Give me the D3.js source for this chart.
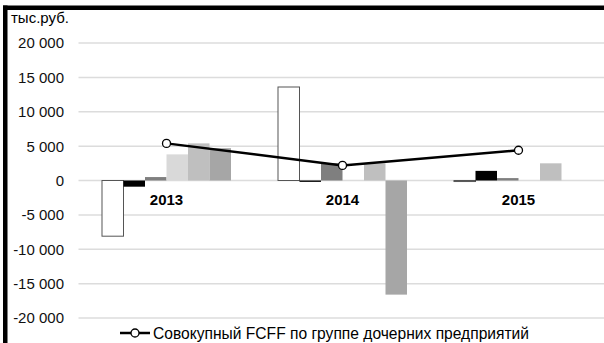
<!DOCTYPE html>
<html lang="ru">
<head>
<meta charset="utf-8">
<title>FCFF по дочерним предприятиям</title>
<script src="https://d3js.org/d3.v7.min.js"></script>
<style>
body { margin: 0; background: #fff; font-family: "Liberation Sans", Arial, sans-serif; }
svg { display: block; }
</style>
</head>
<body>
<div id="vis"></div>
<script>

/* Data */
/* ==== */

var years = ['2013', '2014', '2015'];
var series = ['s1', 's2', 's3', 's4', 's5', 's6'];
var seriesFill = ['#ffffff', '#000000', '#7f7f7f', '#d9d9d9', '#bfbfbf', '#a6a6a6'];
var s1 = [-8100, 13600, -150];
var s2 = [-900, -200, 1400];
var s3 = [500, 2500, 350];
var s4 = [3800, 0, 0];
var s5 = [5400, 2500, 2500];
var s6 = [4700, -16600, 0];
var totalFcff = [5400, 2200, 4400];
var yTicks = [-20000, -15000, -10000, -5000, 0, 5000, 10000, 15000, 20000];
var unitLabel = 'тыс.руб.';
var legendLabel = 'Совокупный FCFF по группе дочерних предприятий';

var values = [s1, s2, s3, s4, s5, s6];

/* SVG */
/* === */

var width = 604, height = 343;
var plot = { left: 78.5, right: 606.5, top: 43, bottom: 318 };

var svg = d3.select('#vis')
	.append('svg')
		.attr('width', width)
		.attr('height', height);

var x0 = d3.scaleBand()
	.domain(years)
	.range([plot.left, plot.right]);

var x1 = d3.scaleBand()
	.domain(series)
	.range([0, x0.bandwidth()])
	.paddingOuter(1.093);

var y = d3.scaleLinear()
	.domain([-20000, 20000])
	.range([plot.bottom, plot.top]);

var fmt = function(d) { return d3.format(',')(d).replace(/,/g, ' ').replace('−', '-'); };

// grid
svg.append('g')
	.selectAll('line')
	.data(yTicks)
	.join('line')
		.attr('x1', plot.left)
		.attr('x2', width)
		.attr('y1', function(d) { return y(d); })
		.attr('y2', function(d) { return y(d); })
		.attr('stroke', '#dcdcdc')
		.attr('stroke-width', 1.5);

// y labels
svg.append('g')
	.selectAll('text')
	.data(yTicks)
	.join('text')
		.attr('x', 64)
		.attr('y', function(d) { return y(d); })
		.attr('dy', '0.36em')
		.attr('text-anchor', 'end')
		.attr('font-size', 15)
		.attr('fill', '#111')
		.text(fmt);

svg.append('text')
	.attr('x', 11)
	.attr('y', 23)
	.attr('font-size', 15)
	.text(unitLabel);

// bars
var groups = svg.append('g')
	.selectAll('g')
	.data(years)
	.join('g')
		.attr('transform', function(d) { return 'translate(' + x0(d) + ',0)'; });

groups.selectAll('rect')
	.data(function(d, i) {
		return series.map(function(s, j) { return { key: s, j: j, value: values[j][i] }; });
	})
	.join('rect')
		.attr('x', function(d) { return x1(d.key); })
		.attr('width', x1.bandwidth())
		.attr('y', function(d) { return y(Math.max(0, d.value)); })
		.attr('height', function(d) { return Math.abs(y(d.value) - y(0)); })
		.attr('fill', function(d) { return seriesFill[d.j]; })
		.attr('stroke', function(d) { return d.j === 0 ? '#555' : 'none'; })
		.attr('stroke-width', 1);

// category labels
svg.append('g')
	.selectAll('text')
	.data(years)
	.join('text')
		.attr('x', function(d) { return x0(d) + x0.bandwidth() / 2; })
		.attr('y', 205)
		.attr('text-anchor', 'middle')
		.attr('font-size', 15)
		.attr('font-weight', 'bold')
		.text(function(d) { return d; });

// total line
var line = d3.line()
	.x(function(d, i) { return x0(years[i]) + x0.bandwidth() / 2; })
	.y(function(d) { return y(d); });

svg.append('path')
	.datum(totalFcff)
	.attr('d', line)
	.attr('fill', 'none')
	.attr('stroke', '#000')
	.attr('stroke-width', 2.5);

svg.append('g')
	.selectAll('circle')
	.data(totalFcff)
	.join('circle')
		.attr('cx', function(d, i) { return x0(years[i]) + x0.bandwidth() / 2; })
		.attr('cy', function(d) { return y(d); })
		.attr('r', 4)
		.attr('fill', '#fff')
		.attr('stroke', '#000')
		.attr('stroke-width', 1.3);

// legend
var lg = svg.append('g').attr('transform', 'translate(120,333)');
lg.append('line')
	.attr('x1', 0).attr('x2', 30)
	.attr('stroke', '#000').attr('stroke-width', 2.5);
lg.append('circle')
	.attr('cx', 15).attr('r', 4)
	.attr('fill', '#fff').attr('stroke', '#000').attr('stroke-width', 1.3);
lg.append('text')
	.attr('x', 33)
	.attr('dy', '0.36em')
	.attr('font-size', 15.6)
	.text(legendLabel);

// frame (top and left)
svg.append('rect').attr('x', 3).attr('y', 5.5).attr('width', width - 3).attr('height', 4.5).attr('fill', '#000');
svg.append('rect').attr('x', 3).attr('y', 5.5).attr('width', 4.5).attr('height', height - 5.5).attr('fill', '#000');

</script>
</body>
</html>
